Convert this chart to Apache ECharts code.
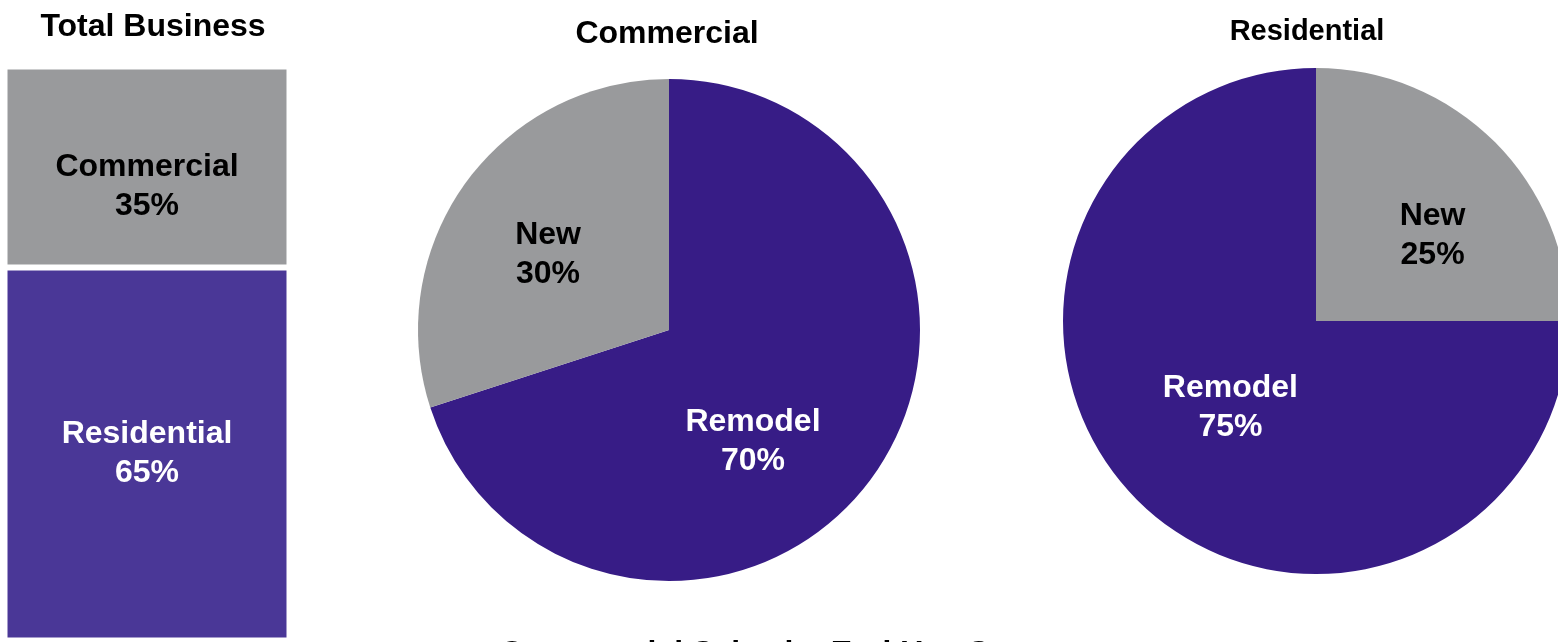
<!DOCTYPE html>
<html>
<head>
<meta charset="utf-8">
<script src="https://cdn.jsdelivr.net/npm/echarts@6/dist/echarts.min.js"></script>
<style>
  html, body { margin: 0; padding: 0; background: #ffffff; }
  #chart { width: 1558px; height: 642px; }
</style>
</head>
<body>
<div id="chart"></div>
<script>
// Share of total business
const totalCategories = ['Commercial', 'Residential'];
const totalValues = [35, 65];

// Commercial sales split
const commercialCategories = ['Remodel', 'New'];
const commercialValues = [70, 30];

// Residential sales split
const residentialCategories = ['New', 'Remodel'];
const residentialValues = [25, 75];

const FONT = '"Liberation Sans", Arial, sans-serif';
const GREY = '#999a9c';
const PIE_PURPLE = '#371c86';
const BAR_PURPLE = '#4a3797';

const sliceColor = { 'New': GREY, 'Remodel': PIE_PURPLE };
const sliceText = { 'New': '#000000', 'Remodel': '#ffffff' };

function pieData(names, values) {
  return names.map((n, i) => ({
    name: n,
    value: values[i],
    itemStyle: { color: sliceColor[n] },
    label: { color: sliceText[n] }
  }));
}

const labelStyle = {
  show: true,
  position: 'inside',
  formatter: '{b}\n{c}%',
  fontFamily: FONT,
  fontWeight: 'bold',
  fontSize: 32,
  lineHeight: 39
};

// label nudges inside each pie, keyed by slice name
const commercialShift = { 'Remodel': [-20, 36], 'New': [-17, 0] };
const residentialShift = { 'New': [25, 6], 'Remodel': [6, -5] };

const chart = echarts.init(document.getElementById('chart'), null, { renderer: 'canvas' });

chart.setOption({
  animation: false,
  backgroundColor: '#ffffff',
  title: [
    { text: 'Total Business', left: 148, top: 6, textAlign: 'center',
      textStyle: { fontFamily: FONT, fontWeight: 'bold', fontSize: 32, color: '#000' } },
    { text: 'Commercial', left: 662, top: 13, textAlign: 'center',
      textStyle: { fontFamily: FONT, fontWeight: 'bold', fontSize: 32, color: '#000' } },
    { text: 'Residential', left: 1302, top: 12, textAlign: 'center',
      textStyle: { fontFamily: FONT, fontWeight: 'bold', fontSize: 29, color: '#000' } }
  ],
  grid: { left: 4.5, top: 66.5, width: 285, height: 574 },
  xAxis: { type: 'category', data: ['Total'], show: false },
  yAxis: { type: 'value', min: 0, max: 100, inverse: true, show: false },
  graphic: [
    { type: 'text', x: 500, y: 638,
      style: { text: 'Commercial Sales by End Use Segment', fill: '#000',
               font: 'bold 32px ' + FONT, verticalAlign: 'top' } }
  ],
  series: [
    {
      type: 'bar', name: totalCategories[0], stack: 'total', barWidth: 285,
      data: [totalValues[0]],
      itemStyle: { color: GREY, borderColor: '#ffffff', borderWidth: 3 },
      label: Object.assign({}, labelStyle, { formatter: '{a}\n{c}%', color: '#000', offset: [0, 20] })
    },
    {
      type: 'bar', name: totalCategories[1], stack: 'total', barWidth: 285,
      data: [totalValues[1]],
      itemStyle: { color: BAR_PURPLE, borderColor: '#ffffff', borderWidth: 3 },
      label: Object.assign({}, labelStyle, { formatter: '{a}\n{c}%', color: '#fff' })
    },
    {
      type: 'pie', name: 'Commercial',
      center: [669, 330], radius: 251,
      startAngle: 90, clockwise: true,
      data: pieData(commercialCategories, commercialValues),
      label: labelStyle,
      labelLine: { show: false },
      labelLayout: (p) => {
        const s = commercialShift[commercialCategories[p.dataIndex]];
        return { dx: s[0], dy: s[1] };
      },
      emphasis: { disabled: true }
    },
    {
      type: 'pie', name: 'Residential',
      center: [1316, 321], radius: 253,
      startAngle: 90, clockwise: true,
      data: pieData(residentialCategories, residentialValues),
      label: labelStyle,
      labelLine: { show: false },
      labelLayout: (p) => {
        const s = residentialShift[residentialCategories[p.dataIndex]];
        return { dx: s[0], dy: s[1] };
      },
      emphasis: { disabled: true }
    }
  ]
});
</script>
</body>
</html>
